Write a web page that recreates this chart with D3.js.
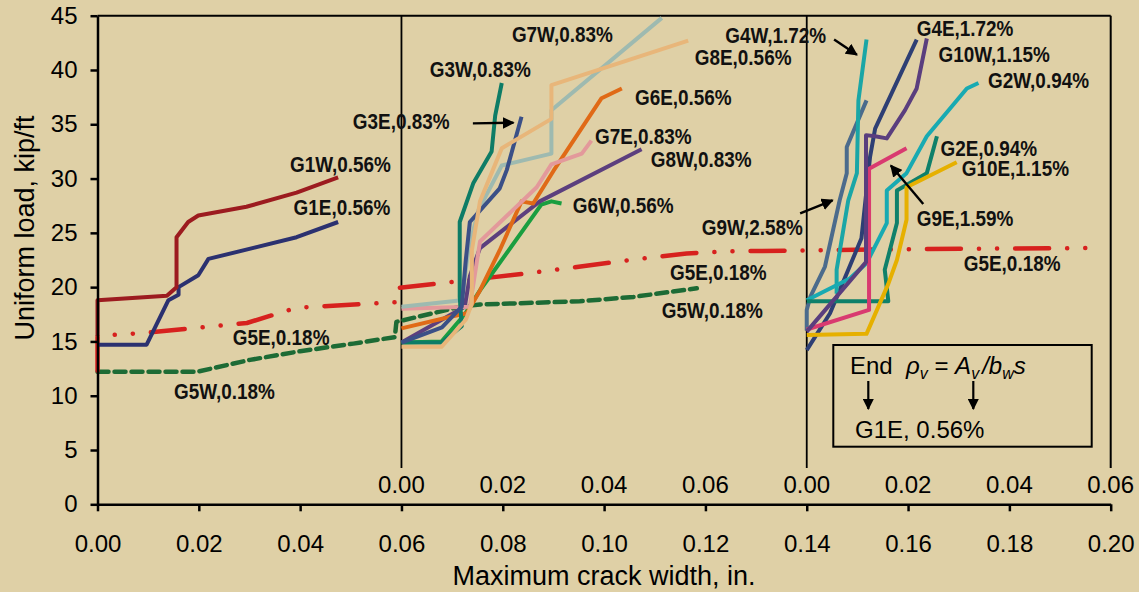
<!DOCTYPE html>
<html>
<head>
<meta charset="utf-8">
<script src="https://cdn.jsdelivr.net/npm/d3@7"></script>
<style>
  body { margin: 0; background: #dfd0a6; }
  svg { display: block; }
</style>
</head>
<body>
<div id="container"></div>
<script>
// crack width (in.) measured from the start of each panel, uniform load (kip/ft)
const g1w = [[0, 15.5], [0, 18.8], [0.0137, 19.2], [0.0156, 20.0], [0.0156, 24.6], [0.0179, 26.0], [0.0199, 26.6], [0.0294, 27.4], [0.0393, 28.7], [0.0475, 30.1]];
const g1e = [[0, 14.7], [0.0097, 14.7], [0.0140, 18.8], [0.0160, 19.3], [0.0160, 20.0], [0.0199, 21.1], [0.0219, 22.6], [0.0393, 24.6], [0.0475, 26.0]];
// G5 lines run across the whole chart
const g5e = [[0, 12.3], [0, 15.5], [0.0097, 15.8], [0.0295, 16.7], [0.0393, 18.1], [0.0587, 18.6], [0.0590, 19.9], [0.0854, 21.3], [0.1051, 22.5], [0.1163, 23.1], [0.1245, 23.3], [0.16, 23.5], [0.1956, 23.6]];
const g5w = [[0, 12.2], [0.0196, 12.2], [0.0301, 13.3], [0.0400, 14.1], [0.0505, 14.8], [0.0587, 15.4], [0.0590, 16.8], [0.0716, 18.2], [0.0755, 18.4], [0.0952, 18.7], [0.1058, 19.1], [0.1183, 19.9]];

const g3w = [[0, 14.9], [0.0079, 14.9], [0.0119, 16.4], [0.0115, 19.1], [0.0115, 26.0], [0.0142, 29.6], [0.0178, 32.5], [0.0185, 35.8], [0.0198, 38.8]];
const g3e = [[0, 14.9], [0.0080, 16.3], [0.0119, 18.2], [0.0127, 22.5], [0.0135, 26.0], [0.0194, 29.1], [0.0208, 30.8], [0.0237, 35.7]];
const g7w = [[0, 18.2], [0.0119, 18.8], [0.0132, 23.4], [0.0152, 27.1], [0.0198, 31.2], [0.0296, 32.3], [0.0296, 36.3], [0.0514, 44.8]];
const g8e = [[0, 14.5], [0.0079, 14.5], [0.0127, 17.0], [0.0139, 18.5], [0.0139, 23.4], [0.0155, 27.9], [0.0198, 32.8], [0.0296, 35.5], [0.0296, 38.6], [0.0566, 42.7]];
const g6e = [[0, 16.2], [0.0099, 17.3], [0.0129, 17.6], [0.0155, 19.7], [0.0194, 23.4], [0.0237, 27.9], [0.0260, 27.7], [0.0300, 30.7], [0.0395, 37.4], [0.0435, 38.3]];
const g7e = [[0, 18.0], [0.0135, 18.2], [0.0155, 24.2], [0.0267, 29.2], [0.0296, 31.3], [0.0356, 32.3], [0.0375, 33.5]];
const g8w = [[0, 14.9], [0.0125, 18.2], [0.0135, 21.0], [0.0155, 23.6], [0.0273, 27.9], [0.0474, 32.7]];
const g6w = [[0, 14.9], [0.0079, 15.0], [0.0125, 17.5], [0.0155, 19.7], [0.0175, 21.0], [0.0276, 27.6], [0.0296, 27.9], [0.0316, 27.7]];

const g4w = [[0.0059, 19.4], [0.0059, 21.6], [0.0082, 28.0], [0.0099, 30.5], [0.0102, 37.2], [0.0118, 42.8]];
const g2w = [[0, 18.8], [0.0085, 20.8], [0.0118, 22.2], [0.0158, 25.9], [0.0158, 28.9], [0.0197, 30.5], [0.0237, 33.9], [0.0316, 38.3], [0.0339, 38.8]];
const g2e = [[0, 18.7], [0.0161, 18.7], [0.0154, 21.6], [0.0178, 25.9], [0.0178, 28.9], [0.0237, 30.5], [0.0257, 33.9]];
const g10e = [[0, 15.6], [0.0118, 15.7], [0.0161, 20.3], [0.0178, 22.5], [0.0197, 26.2], [0.0197, 29.2], [0.0296, 31.5]];
const g9e = [[0, 16.1], [0.0123, 17.9], [0.0123, 30.9], [0.0197, 32.8]];
const g10w = [[0, 15.9], [0.0117, 22.3], [0.0117, 34.0], [0.0135, 33.9], [0.0158, 33.7], [0.0194, 36.3], [0.0217, 38.3], [0.0237, 42.9]];
const g4e = [[0, 14.2], [0.0046, 17.6], [0.0108, 24.5], [0.0125, 32.0], [0.0135, 34.6], [0.0217, 42.8]];
const g9w = [[0, 16.0], [0, 17.9], [0.0007, 19.1], [0.0036, 21.9], [0.0065, 28.0], [0.0079, 30.5], [0.0079, 32.9], [0.0118, 37.2]];

const panelOffsets = [0, 0.06, 0.14];
const mainTicks = d3.range(0, 0.2001, 0.02);
const panelTicks = [0, 0.02, 0.04, 0.06];
const loadTicks = d3.range(0, 46, 5);

const width = 1139;
const height = 592;

const series = [
    {pts: g5w, panel: 0, color: "#1d6b35", dash: "11,6"},
    {pts: g5e, panel: 0, color: "#d7211e", dash: "34,18,0.1,18,0.1,18"},
    {pts: g1e, panel: 0, color: "#2b3170"},
    {pts: g1w, panel: 0, color: "#9c1b1f"},
    {pts: g6w, panel: 1, color: "#1a9e40"},
    {pts: g8w, panel: 1, color: "#5c3f7e"},
    {pts: g6e, panel: 1, color: "#e06a17"},
    {pts: g7e, panel: 1, color: "#e3999b"},
    {pts: g7w, panel: 1, color: "#9ebab0"},
    {pts: g3w, panel: 1, color: "#0e7c66"},
    {pts: g3e, panel: 1, color: "#3b5087"},
    {pts: g8e, panel: 1, color: "#e8b67a"},
    {pts: g4e, panel: 2, color: "#2e3f74"},
    {pts: g9w, panel: 2, color: "#4b6b8c"},
    {pts: g4w, panel: 2, color: "#1aa6a6"},
    {pts: g2w, panel: 2, color: "#18aab2"},
    {pts: g2e, panel: 2, color: "#0f806a"},
    {pts: g10e, panel: 2, color: "#e6b000"},
    {pts: g9e, panel: 2, color: "#d93a70"},
    {pts: g10w, panel: 2, color: "#5a3e7e"}
];

// label text, left x / baseline y in chart units
const labels = [
    ["G1W,0.56%", 0.0380, 30.6], ["G1E,0.56%", 0.0387, 26.6],
    ["G5E,0.18%", 0.0267, 14.7], ["G5W,0.18%", 0.0151, 9.67],
    ["G3W,0.83%", 0.0656, 39.4], ["G3E,0.83%", 0.0504, 34.6],
    ["G7W,0.83%", 0.0818, 42.6], ["G8E,0.56%", 0.1179, 40.45],
    ["G4W,1.72%", 0.1239, 42.5], ["G6E,0.56%", 0.1061, 36.8],
    ["G7E,0.83%", 0.0982, 33.2], ["G8W,0.83%", 0.1092, 31.1],
    ["G6W,0.56%", 0.0938, 26.8], ["G9W,2.58%", 0.1193, 24.8],
    ["G5E,0.18%", 0.1130, 20.7], ["G5W,0.18%", 0.1114, 17.2],
    ["G4E,1.72%", 0.1617, 43.1], ["G10W,1.15%", 0.1660, 40.75],
    ["G2W,0.94%", 0.1758, 38.3], ["G2E,0.94%", 0.1664, 32.1],
    ["G10E,1.15%", 0.1706, 30.2], ["G9E,1.59%", 0.1617, 25.6],
    ["G5E,0.18%", 0.1710, 21.5]
];

const arrows = [
    [0.0741, 35.08, 0.0821, 35.14],
    [0.1454, 42.8, 0.1499, 41.4],
    [0.1387, 26.8, 0.1451, 28.0],
    [0.1630, 27.65, 0.1566, 31.2]
];

const x = d3.scaleLinear().domain([0, 0.2]).range([97.5, 1110.7]);
const y = d3.scaleLinear().domain([0, 45]).range([504.3, 15.7]);

const svg = d3.create("svg")
    .attr("width", width)
    .attr("height", height);

svg.append("rect")
    .attr("width", width)
    .attr("height", height)
    .attr("fill", "#dfd0a6");

svg.append("defs").append("marker")
    .attr("id", "head")
    .attr("viewBox", "0 0 10 10")
    .attr("refX", 9)
    .attr("refY", 5)
    .attr("markerWidth", 5)
    .attr("markerHeight", 5)
    .attr("markerUnits", "strokeWidth")
    .attr("orient", "auto")
    .append("path")
    .attr("d", "M0,0 L10,5 L0,10 Z")
    .attr("fill", "#000");

// frame: top, right and the panel separators
const frame = svg.append("g").attr("stroke", "#000").attr("fill", "none");
frame.append("line")
    .attr("x1", x(0)).attr("x2", x(0.2))
    .attr("y1", y(45)).attr("y2", y(45))
    .attr("stroke-width", 2);
frame.selectAll("line.sep")
    .data([0.06, 0.14, 0.2])
    .enter()
    .append("line")
    .attr("class", "sep")
    .attr("x1", d => x(d)).attr("x2", d => x(d))
    .attr("y1", y(45)).attr("y2", 468)
    .attr("stroke-width", d => d === 0.2 ? 2 : 1.8);

// data lines
const line = d3.line();
svg.append("g")
    .selectAll("path")
    .data(series)
    .enter()
    .append("path")
    .attr("d", s => line(s.pts.map(p => [x(panelOffsets[s.panel] + p[0]), y(p[1])])))
    .attr("fill", "none")
    .attr("stroke", s => s.color)
    .attr("stroke-width", s => s.dash ? 4.5 : 4)
    .attr("stroke-linejoin", "round")
    .attr("stroke-linecap", s => s.dash ? "round" : "butt")
    .attr("stroke-dasharray", s => s.dash || null);

// axes
const xAxis = svg.append("g")
    .attr("transform", `translate(0,${y(0)})`)
    .call(d3.axisBottom(x).tickValues(mainTicks).tickSizeInner(7).tickSizeOuter(0).tickFormat(d3.format(".2f")));
xAxis.select(".domain").attr("stroke-width", 2.5);
xAxis.selectAll(".tick line").attr("stroke-width", 2.5);
xAxis.selectAll("text")
    .attr("y", 48)
    .attr("dy", null)
    .attr("font-size", "24px")
    .attr("font-family", "'Liberation Sans', Arial, sans-serif")
    .attr("fill", "#000");

const yAxis = svg.append("g")
    .attr("transform", `translate(${x(0)},0)`)
    .call(d3.axisLeft(y).tickValues(loadTicks).tickSizeInner(7).tickSizeOuter(0).tickPadding(13));
yAxis.select(".domain").attr("stroke-width", 2.5);
yAxis.selectAll(".tick line").attr("stroke-width", 2.5);
yAxis.selectAll("text")
    .attr("font-size", "24px")
    .attr("font-family", "'Liberation Sans', Arial, sans-serif")
    .attr("fill", "#000");

// secondary panel tick labels
svg.append("g")
    .selectAll("text")
    .data(panelOffsets.slice(1).flatMap(o => panelTicks.map(t => ({o, t}))))
    .enter()
    .append("text")
    .attr("x", d => x(d.o + d.t))
    .attr("y", 493)
    .attr("text-anchor", "middle")
    .attr("font-size", "24px")
    .attr("font-family", "'Liberation Sans', Arial, sans-serif")
    .text(d => d3.format(".2f")(d.t));

svg.append("text")
    .attr("x", (x(0) + x(0.2)) / 2)
    .attr("y", 585)
    .attr("text-anchor", "middle")
    .attr("font-size", "27px")
    .attr("font-family", "'Liberation Sans', Arial, sans-serif")
    .text("Maximum crack width, in.");

svg.append("text")
    .attr("transform", "translate(33.5,228) rotate(-90)")
    .attr("text-anchor", "middle")
    .attr("font-size", "27px")
    .attr("font-family", "'Liberation Sans', Arial, sans-serif")
    .text("Uniform load, kip/ft");

// series labels, condensed
svg.append("g")
    .selectAll("text")
    .data(labels)
    .enter()
    .append("text")
    .attr("transform", d => `translate(${x(d[1])},${y(d[2])}) scale(0.86,1)`)
    .attr("font-size", "22px")
    .attr("font-weight", "bold")
    .attr("font-family", "'Liberation Sans', Arial, sans-serif")
    .attr("fill", "#111")
    .text(d => d[0]);

svg.append("g")
    .selectAll("line")
    .data(arrows)
    .enter()
    .append("line")
    .attr("x1", d => x(d[0])).attr("y1", d => y(d[1]))
    .attr("x2", d => x(d[2])).attr("y2", d => y(d[3]))
    .attr("stroke", "#000")
    .attr("stroke-width", 2.4)
    .attr("marker-end", "url(#head)");

// key box
const key = svg.append("g").attr("font-family", "'Liberation Sans', Arial, sans-serif").attr("font-size", "24px");
key.append("rect")
    .attr("x", 833.3).attr("y", 345)
    .attr("width", 258.4).attr("height", 101.7)
    .attr("fill", "none")
    .attr("stroke", "#000")
    .attr("stroke-width", 2);
key.append("text").attr("x", 850).attr("y", 373.5).text("End");
const formula = key.append("text").attr("x", 906).attr("y", 373.5);
formula.append("tspan").attr("font-style", "italic").text("\u03c1");
formula.append("tspan").attr("font-style", "italic").attr("font-size", "16px").attr("dy", 5).text("v");
formula.append("tspan").attr("dy", -5).text(" = ");
formula.append("tspan").attr("font-style", "italic").text("A");
formula.append("tspan").attr("font-style", "italic").attr("font-size", "16px").attr("dy", 5).text("v");
formula.append("tspan").attr("font-style", "italic").attr("dy", -5).attr("dx", 3).text("/b");
formula.append("tspan").attr("font-style", "italic").attr("font-size", "16px").attr("dy", 5).text("w");
formula.append("tspan").attr("font-style", "italic").attr("dy", -5).text("s");
key.append("text").attr("x", 855).attr("y", 437.5).text("G1E, 0.56%");
key.selectAll("line")
    .data([868.3, 973.3])
    .enter()
    .append("line")
    .attr("x1", d => d).attr("x2", d => d)
    .attr("y1", 381).attr("y2", 409)
    .attr("stroke", "#000")
    .attr("stroke-width", 2.2)
    .attr("marker-end", "url(#head)");

d3.select("#container").append(() => svg.node());
</script>
</body>
</html>
